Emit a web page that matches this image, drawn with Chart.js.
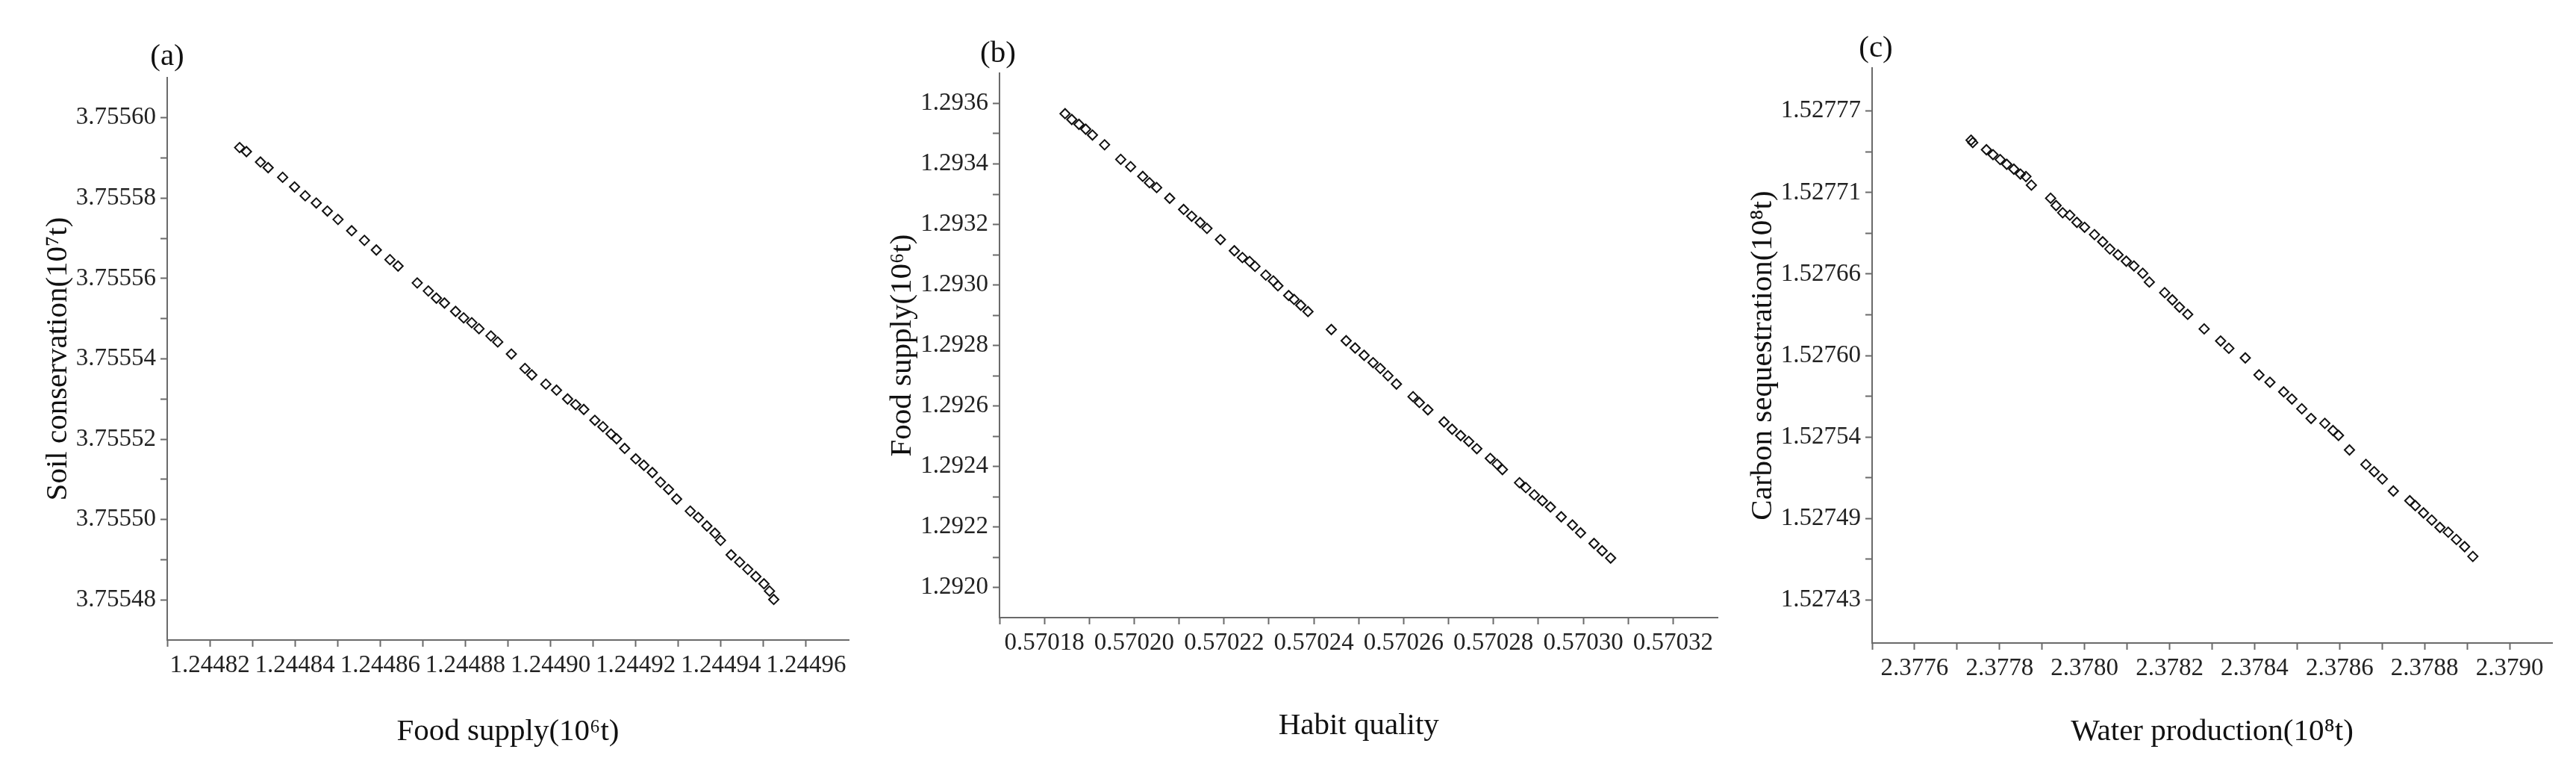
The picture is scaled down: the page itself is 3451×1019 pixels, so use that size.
<!DOCTYPE html>
<html><head><meta charset="utf-8">
<script src="https://cdn.jsdelivr.net/npm/chart.js@4.4.1/dist/chart.umd.min.js"></script>
<style>
html,body{margin:0;padding:0;background:#fff;width:3451px;height:1019px;overflow:hidden}
.p{position:absolute;top:0;height:1019px}
</style></head><body>
<div class="p" id="wa" style="left:0;width:1150px"><canvas id="ca"></canvas></div>
<div class="p" id="wb" style="left:1150px;width:1160px"><canvas id="cb"></canvas></div>
<div class="p" id="wc" style="left:2300px;width:1151px"><canvas id="cc"></canvas></div>
<script>
// Panel (a)
const aX=[1.2448270,1.2448286,1.2448319,1.2448337,1.2448371,1.2448399,1.2448424,1.2448450,1.2448476,1.2448501,1.2448533,1.2448563,1.2448591,1.2448623,1.2448642,1.2448687,1.2448713,1.2448732,1.2448751,1.2448777,1.2448796,1.2448815,1.2448832,1.2448860,1.2448876,1.2448908,1.2448940,1.2448956,1.2448989,1.2449014,1.2449040,1.2449059,1.2449078,1.2449104,1.2449123,1.2449142,1.2449155,1.2449174,1.2449200,1.2449219,1.2449239,1.2449258,1.2449277,1.2449296,1.2449328,1.2449347,1.2449367,1.2449386,1.2449399,1.2449424,1.2449444,1.2449463,1.2449482,1.2449501,1.2449514,1.2449524];
const aY=[3.7555926,3.7555916,3.7555890,3.7555876,3.7555852,3.7555828,3.7555806,3.7555788,3.7555768,3.7555747,3.7555719,3.7555695,3.7555671,3.7555647,3.7555631,3.7555589,3.7555569,3.7555551,3.7555539,3.7555518,3.7555502,3.7555490,3.7555475,3.7555457,3.7555442,3.7555412,3.7555376,3.7555360,3.7555337,3.7555322,3.7555300,3.7555286,3.7555274,3.7555247,3.7555231,3.7555213,3.7555201,3.7555177,3.7555151,3.7555135,3.7555117,3.7555093,3.7555075,3.7555051,3.7555021,3.7555005,3.7554984,3.7554966,3.7554948,3.7554912,3.7554894,3.7554876,3.7554858,3.7554840,3.7554822,3.7554801];
const aXMajor=[1.24482,1.24484,1.24486,1.24488,1.24490,1.24492,1.24494,1.24496];
const aXMinor=[1.24481,1.24483,1.24485,1.24487,1.24489,1.24491,1.24493,1.24495];
const aYMajor=[3.75548,3.75550,3.75552,3.75554,3.75556,3.75558,3.75560];
const aYMinor=[3.75549,3.75551,3.75553,3.75555,3.75557,3.75559];
// Panel (b)
const bX=[0.5701846,0.5701861,0.5701877,0.5701892,0.5701907,0.5701934,0.5701970,0.5701992,0.5702019,0.5702034,0.5702050,0.5702079,0.5702110,0.5702128,0.5702147,0.5702162,0.5702192,0.5702223,0.5702241,0.5702257,0.5702269,0.5702293,0.5702310,0.5702320,0.5702344,0.5702356,0.5702371,0.5702387,0.5702439,0.5702472,0.5702492,0.5702512,0.5702532,0.5702548,0.5702565,0.5702584,0.5702621,0.5702635,0.5702654,0.5702690,0.5702708,0.5702727,0.5702745,0.5702763,0.5702793,0.5702808,0.5702820,0.5702858,0.5702872,0.5702891,0.5702909,0.5702927,0.5702951,0.5702976,0.5702994,0.5703024,0.5703042,0.5703061];
const bY=[1.2935662,1.2935469,1.2935309,1.2935148,1.2934955,1.2934633,1.2934151,1.2933910,1.2933588,1.2933379,1.2933219,1.2932865,1.2932495,1.2932270,1.2932061,1.2931868,1.2931498,1.2931129,1.2930904,1.2930775,1.2930614,1.2930325,1.2930132,1.2929971,1.2929650,1.2929521,1.2929328,1.2929119,1.2928524,1.2928154,1.2927913,1.2927672,1.2927431,1.2927238,1.2926997,1.2926723,1.2926305,1.2926113,1.2925871,1.2925469,1.2925228,1.2925019,1.2924826,1.2924585,1.2924264,1.2924071,1.2923894,1.2923460,1.2923299,1.2923058,1.2922865,1.2922656,1.2922334,1.2922061,1.2921804,1.2921450,1.2921209,1.2920968];
const bXMajor=[0.57018,0.57020,0.57022,0.57024,0.57026,0.57028,0.57030,0.57032];
const bXMinor=[0.57017,0.57019,0.57021,0.57023,0.57025,0.57027,0.57029,0.57031];
const bYMajor=[1.2920,1.2922,1.2924,1.2926,1.2928,1.2930,1.2932,1.2934,1.2936];
const bYMinor=[1.2921,1.2923,1.2925,1.2927,1.2929,1.2931,1.2933,1.2935];
// Panel (c)
const cX=[2.3777329,2.3777368,2.3777690,2.3777845,2.3778013,2.3778168,2.3778335,2.3778490,2.3778619,2.3778748,2.3779200,2.3779329,2.3779484,2.3779652,2.3779819,2.3780000,2.3780232,2.3780426,2.3780594,2.3780787,2.3780981,2.3781161,2.3781368,2.3781523,2.3781884,2.3782065,2.3782232,2.3782426,2.3782813,2.3783200,2.3783394,2.3783781,2.3784103,2.3784361,2.3784684,2.3784877,2.3785110,2.3785329,2.3785652,2.3785845,2.3785974,2.3786232,2.3786619,2.3786813,2.3787006,2.3787265,2.3787652,2.3787781,2.3787974,2.3788168,2.3788361,2.3788555,2.3788748,2.3788942,2.3789135];
const cY=[1.5277498,1.5277481,1.5277431,1.5277397,1.5277363,1.5277330,1.5277296,1.5277262,1.5277245,1.5277185,1.5277094,1.5277043,1.5276993,1.5276976,1.5276926,1.5276892,1.5276841,1.5276791,1.5276741,1.5276700,1.5276656,1.5276623,1.5276572,1.5276511,1.5276437,1.5276387,1.5276336,1.5276286,1.5276185,1.5276101,1.5276050,1.5275983,1.5275865,1.5275814,1.5275747,1.5275697,1.5275629,1.5275562,1.5275528,1.5275478,1.5275444,1.5275343,1.5275242,1.5275192,1.5275141,1.5275057,1.5274990,1.5274956,1.5274905,1.5274855,1.5274804,1.5274771,1.5274720,1.5274670,1.5274602];
const cXMajor=[2.3776,2.3778,2.3780,2.3782,2.3784,2.3786,2.3788,2.3790];
const cXMinor=[2.3775,2.3777,2.3779,2.3781,2.3783,2.3785,2.3787,2.3789];
const cYMajor=[1.5274300,1.5274867,1.5275433,1.5276000,1.5276567,1.5277133,1.5277700];
const cYMinor=[1.5274583,1.5275150,1.5275717,1.5276283,1.5276850,1.5277417];

const FONT='"Liberation Serif","DejaVu Serif",serif';
const AX='#6a6a6a';
function axis(min,max,major,minor,dec,title,isX,fit){
  return {
    type:'linear',position:isX?'bottom':'left',min:min,max:max,
    afterBuildTicks:s=>{s.ticks=major.concat(minor).sort((p,q)=>p-q).map(v=>({value:v}));},
    afterFit:s=>{ if(isX) s.height=fit; else s.width=fit; },
    grid:{display:true,drawOnChartArea:false,drawTicks:true,tickLength:9,color:AX,tickColor:AX,tickWidth:2},
    border:{display:true,color:AX,width:2},
    ticks:{autoSkip:false,maxRotation:0,padding:6,color:'#222',font:{family:FONT,size:33},
      callback:v=>major.some(m=>Math.abs(m-v)<1e-9)?v.toFixed(dec):''},
    title:{display:true,text:title,color:'#111',font:{family:FONT,size:41},padding:{top:2,bottom:2}}
  };
}
const labelPlugin={id:'lbl',afterDraw(ch){const o=ch.options.plugins.lbl;const c=ch.ctx;c.save();c.font='41px '+FONT;c.fillStyle='#111';c.textAlign='center';c.textBaseline='middle';c.fillText(o.text,ch.chartArea.left+o.dx,o.y);c.restore();}};
function make(id,xs,ys,xa,ya,pad,lab){
  const pts=xs.map((x,i)=>({x:x,y:ys[i]}));
  new Chart(document.getElementById(id),{type:'scatter',
    data:{datasets:[{data:pts,pointStyle:'rectRot',radius:6.5,borderColor:'#111',backgroundColor:'rgba(255,255,255,0)',borderWidth:2}]},
    options:{responsive:true,maintainAspectRatio:false,animation:false,
      layout:{padding:pad},
      plugins:{legend:{display:false},tooltip:{enabled:false},lbl:lab},
      scales:{x:xa,y:ya}},plugins:[labelPlugin]});
}
make('ca',aX,aY,
  axis(1.24481,1.24497,aXMajor,aXMinor,5,'Food supply(10⁶t)',true,150),
  axis(3.75547,3.75561,aYMajor,aYMinor,5,'Soil conservation(10⁷t)',false,172),
  {top:104,right:13,left:52,bottom:12},{text:'(a)',dx:0,y:76});
make('cb',bX,bY,
  axis(0.57017,0.57033,bXMajor,bXMinor,5,'Habit quality',true,172),
  axis(1.2919,1.2937,bYMajor,bYMinor,4,'Food supply(10⁶t)',false,156),
  {top:98,right:4,left:33,bottom:20},{text:'(b)',dx:-2,y:72});
make('cc',cX,cY,
  axis(2.3775,2.3791,cXMajor,cXMinor,4,'Water production(10⁸t)',true,146),
  axis(1.5274,1.5278,cYMajor,cYMinor,5,'Carbon sequestration(10⁸t)',false,172),
  {top:91,right:32,left:36,bottom:12},{text:'(c)',dx:5,y:65});
</script></body></html>
